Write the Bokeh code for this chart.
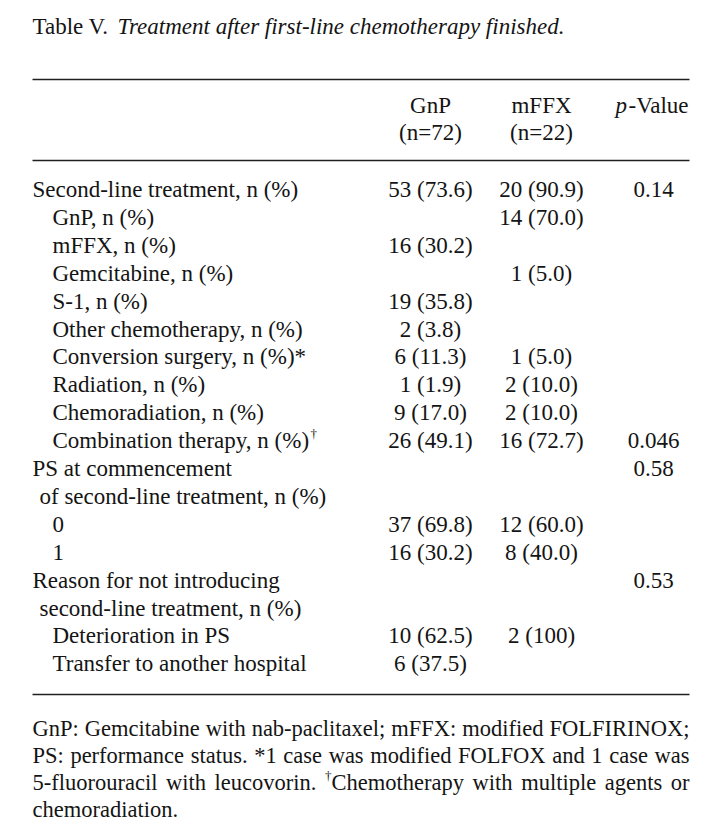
from bokeh.plotting import figure
from bokeh.models import Range1d
from bokeh.core.properties import value
from bokeh.embed import file_html
from bokeh.resources import INLINE

# ---------------- data ----------------
title_lead = "Table V."
title_italic = "Treatment after first-line chemotherapy finished."
col_heads = ["GnP", "mFFX"]
col_ns = ["(n=72)", "(n=22)"]

row_labels = [
    "Second-line treatment, n (%)",
    "GnP, n (%)",
    "mFFX, n (%)",
    "Gemcitabine, n (%)",
    "S-1, n (%)",
    "Other chemotherapy, n (%)",
    "Conversion surgery, n (%)*",
    "Radiation, n (%)",
    "Chemoradiation, n (%)",
    "Combination therapy, n (%)",
    "PS at commencement",
    "of second-line treatment, n (%)",
    "0",
    "1",
    "Reason for not introducing",
    "second-line treatment, n (%)",
    "Deterioration in PS",
    "Transfer to another hospital",
]
row_level = [0, 1, 1, 1, 1, 1, 1, 1, 1, 1, 0, 2, 1, 1, 0, 2, 1, 1]
row_dagger = [False] * 9 + [True] + [False] * 8

gnp_vals = ["53 (73.6)", "", "16 (30.2)", "", "19 (35.8)", "2 (3.8)", "6 (11.3)",
            "1 (1.9)", "9 (17.0)", "26 (49.1)", "", "", "37 (69.8)", "16 (30.2)",
            "", "", "10 (62.5)", "6 (37.5)"]
mffx_vals = ["20 (90.9)", "14 (70.0)", "", "1 (5.0)", "", "", "1 (5.0)",
             "2 (10.0)", "2 (10.0)", "16 (72.7)", "", "", "12 (60.0)", "8 (40.0)",
             "", "", "2 (100)", ""]
p_vals = ["0.14", "", "", "", "", "", "", "", "", "0.046", "0.58", "", "", "",
          "0.53", "", "", ""]

footnote_lines = [
    "GnP: Gemcitabine with nab-paclitaxel; mFFX: modified FOLFIRINOX;",
    "PS: performance status. *1 case was modified FOLFOX and 1 case was",
    "5-fluorouracil with leucovorin. \u2020Chemotherapy with multiple agents or",
    "chemoradiation.",
]

# ---------------- metrics (Times / Liberation Serif) ----------------
ROMAN = {' ': 250, '!': 333, '%': 833, '(': 333, ')': 333, '*': 500, ',': 250,
         '-': 333, '.': 250, ':': 278, ';': 278, '=': 564, '\u2020': 500,
         'A': 722, 'B': 667, 'C': 667, 'D': 722, 'E': 611, 'F': 556, 'G': 722,
         'H': 722, 'I': 333, 'J': 389, 'K': 722, 'L': 611, 'M': 889, 'N': 722,
         'O': 722, 'P': 556, 'Q': 722, 'R': 667, 'S': 556, 'T': 611, 'U': 722,
         'V': 722, 'W': 944, 'X': 722, 'Y': 722, 'Z': 611,
         'a': 444, 'b': 500, 'c': 444, 'd': 500, 'e': 444, 'f': 333, 'g': 500,
         'h': 500, 'i': 278, 'j': 278, 'k': 500, 'l': 278, 'm': 778, 'n': 500,
         'o': 500, 'p': 500, 'q': 500, 'r': 333, 's': 389, 't': 278, 'u': 500,
         'v': 500, 'w': 722, 'x': 500, 'y': 500, 'z': 444}
for d in "0123456789":
    ROMAN[d] = 500


def tw(s, fs):
    return sum(ROMAN.get(c, 500) for c in s) / 1000.0 * fs


FONT = "Liberation Serif"
FS = 23
FS_NOTE = 22.5
SUP = 13
INK = "#141414"

W, H = 706, 828
p = figure(width=W, height=H, x_range=Range1d(0, W), y_range=Range1d(8 + H, 8),
           output_backend="svg", toolbar_location=None, min_border=0,
           x_axis_location=None, y_axis_location=None)
p.grid.visible = False
p.outline_line_color = None
p.background_fill_color = "white"


def put(xs, ys, texts, align="left", style="normal", size=FS):
    p.text(x=xs, y=ys, text=texts, text_font=value(FONT), text_font_size=f"{size}px",
           text_align=align, text_baseline="alphabetic", text_color=INK,
           text_font_style=style)


# layout
LEFT, RIGHT = 32, 689
X_GNP, X_MFFX, X_P = 430, 541, 653
INDENT = {0: LEFT, 1: LEFT + 20, 2: LEFT + 7}
ROW0, STEP = 197, 27.9

# title
ty = 34
put([LEFT], [ty], [title_lead])
x_it = LEFT + tw(title_lead, FS) + 4.5
put([x_it], [ty], [title_italic], style="italic")

# rules
p.segment(x0=[LEFT] * 3, x1=[RIGHT] * 3, y0=[87, 168, 702], y1=[87, 168, 702],
          line_color="#202020", line_width=1.6)

# header
put([X_GNP, X_MFFX], [113, 113], col_heads, align="center")
put([X_GNP, X_MFFX], [140, 140], col_ns, align="center")
val_w = tw("-Value", FS)
put([RIGHT - 1], [113], ["-Value"], align="right")
put([RIGHT - 1 - val_w + 1], [113], ["p"], align="right", style="italic")

# body rows
ys = [ROW0 + STEP * i for i in range(len(row_labels))]
put([INDENT[l] for l in row_level], ys, row_labels)
dx, dy = [], []
for i, lab in enumerate(row_labels):
    if row_dagger[i]:
        dx.append(INDENT[row_level[i]] + tw(lab, FS))
        dy.append(ys[i] - 7)
put(dx, dy, ["\u2020"] * len(dx), size=SUP)


def col(vals, x):
    xx = [x for v in vals if v]
    yy = [ys[i] for i, v in enumerate(vals) if v]
    put(xx, yy, [v for v in vals if v], align="center")


col(gnp_vals, X_GNP)
col(mffx_vals, X_MFFX)
col(p_vals, X_P)

# footnote, justified
FB0, FSTEP = 736, 27
for li, line in enumerate(footnote_lines):
    yb = FB0 + FSTEP * li
    words = line.split(" ")

    def wlen(w):
        if w.startswith("\u2020"):
            return tw("\u2020", SUP) + tw(w[1:], FS_NOTE)
        return tw(w, FS_NOTE)

    total = sum(wlen(w) for w in words)
    last = li == len(footnote_lines) - 1
    gap = tw(" ", FS_NOTE) if last or len(words) < 2 else (RIGHT - LEFT - total) / (len(words) - 1)
    x = LEFT
    for w in words:
        if w.startswith("\u2020"):
            put([x], [yb - 7], ["\u2020"], size=SUP)
            put([x + tw("\u2020", SUP)], [yb], [w[1:]], size=FS_NOTE)
        else:
            put([x], [yb], [w], size=FS_NOTE)
        x += wlen(w) + gap

open("out.html", "w").write(file_html(p, INLINE))
